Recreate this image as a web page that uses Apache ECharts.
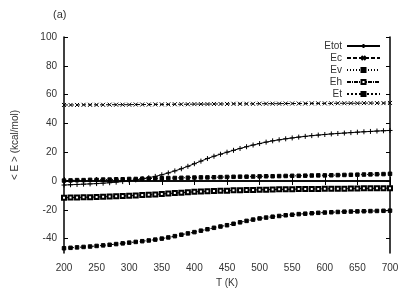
<!DOCTYPE html>
<html><head><meta charset="utf-8">
<script src="https://cdn.jsdelivr.net/npm/echarts@6/dist/echarts.min.js"></script>
<style>html,body{margin:0;padding:0;background:#fff}#c{width:409px;height:298px}</style>
</head><body><div id="c"></div>
<script>
const temps = [200,210,220,230,240,250,260,270,280,290,300,310,320,330,340,350,360,370,380,390,400,410,420,430,440,450,460,470,480,490,500,510,520,530,540,550,560,570,580,590,600,610,620,630,640,650,660,670,680,690,700];
const Etot = [-2.8,-2.6,-2.4,-2.2,-2.0,-1.8,-1.5,-1.2,-0.8,-0.4,0.2,0.8,1.5,2.3,3.2,4.3,5.6,7.0,8.5,10.2,12.0,13.8,15.6,17.2,18.6,20.0,21.3,22.6,23.8,25.0,26.0,27.0,27.9,28.6,29.3,29.9,30.5,31.0,31.5,31.9,32.3,32.7,33.0,33.3,33.6,33.9,34.2,34.4,34.7,34.9,35.1];
const Ec = [52.8,52.8,52.8,52.9,52.9,52.9,52.9,53.0,53.0,53.0,53.0,53.1,53.1,53.1,53.2,53.2,53.2,53.3,53.3,53.3,53.4,53.4,53.4,53.5,53.5,53.5,53.6,53.6,53.6,53.6,53.7,53.7,53.7,53.7,53.8,53.8,53.8,53.8,53.9,53.9,53.9,53.9,54.0,54.0,54.0,54.0,54.1,54.1,54.1,54.1,54.2];
const Ev = [0.3,0.4,0.6,0.6,0.8,0.8,1.0,1.0,1.2,1.2,1.4,1.4,1.6,1.7,1.8,1.9,2.0,2.1,2.2,2.3,2.4,2.5,2.5,2.6,2.7,2.8,2.9,3.0,3.0,3.1,3.2,3.3,3.3,3.4,3.5,3.6,3.6,3.7,3.8,3.9,3.9,4.0,4.1,4.2,4.3,4.4,4.5,4.6,4.7,4.8,5.0];
const Eh = [-11.6,-11.5,-11.4,-11.3,-11.2,-11.1,-11.0,-10.8,-10.6,-10.4,-10.2,-10.0,-9.8,-9.6,-9.3,-9.0,-8.7,-8.4,-8.1,-7.8,-7.5,-7.3,-7.1,-6.9,-6.8,-6.7,-6.5,-6.4,-6.3,-6.2,-6.1,-6.0,-5.9,-5.8,-5.8,-5.7,-5.6,-5.6,-5.5,-5.5,-5.4,-5.4,-5.3,-5.3,-5.2,-5.2,-5.1,-5.1,-5.0,-5.0,-5.0];
const Et = [-46.7,-46.4,-46.1,-45.8,-45.5,-45.1,-44.7,-44.3,-43.8,-43.3,-42.8,-42.3,-41.8,-41.3,-40.7,-40.0,-39.2,-38.3,-37.3,-36.4,-35.5,-34.5,-33.5,-32.5,-31.6,-30.7,-29.7,-28.7,-27.7,-26.8,-26.0,-25.4,-24.8,-24.3,-23.8,-23.4,-23.0,-22.7,-22.4,-22.1,-21.9,-21.7,-21.5,-21.3,-21.2,-21.1,-21.0,-20.9,-20.8,-20.7,-20.6];
const seriesNames = ['Etot','Ec','Ev','Eh','Et'];
const yTicks = [-40,-20,0,20,40,60,80,100];
const xTicks = [200,250,300,350,400,450,500,550,600,650,700];

const font = 'Liberation Sans, Arial, sans-serif';
const txt = '#333';
const pair = a => a.map((v,i)=>[temps[i], v]);
const cross = 'path://M0,0L10,10M10,0L0,10';
const plus = 'path://M5,0L5,10M0,5L10,5';
const styles = {
  Etot:{data:Etot, symbol:plus, size:5, type:'solid'},
  Ec:{data:Ec, symbol:cross, size:4, type:[4,2]},
  Ev:{data:Ev, symbol:'rect', size:3.5, type:[1,2]},
  Eh:{data:Eh, symbol:'emptyRect', size:4, type:[4,1,1,1]},
  Et:{data:Et, symbol:'rect', size:3.5, type:[2,2]}
};
const series = seriesNames.map(n => ({
  name:n, type:'line', data:pair(styles[n].data),
  symbol:styles[n].symbol, symbolSize:styles[n].size, showAllSymbol:true,
  lineStyle:{color:'#000', width:1, type:styles[n].type},
  itemStyle:{color:'#000', borderColor:'#000', borderWidth:1},
  animation:false
}));
const chart = echarts.init(document.getElementById('c'));
chart.setOption({
  animation:false,
  title:{text:'(a)', left:48, top:4, textStyle:{fontSize:11, fontWeight:'normal', color:txt, fontFamily:font}},
  legend:{data:seriesNames, orient:'vertical', right:28, top:40, align:'right', itemWidth:33, itemHeight:5, itemGap:0,
    padding:0, textStyle:{fontSize:10, color:txt, fontFamily:font, lineHeight:12, padding:[0,0,0,0]}},
  grid:{left:64, right:19, top:37, bottom:45},
  xAxis:[{type:'value', min:200, max:700, interval:50, position:'bottom',
    name:'T (K)', nameLocation:'middle', nameGap:25, nameTextStyle:{fontSize:10, color:txt, fontFamily:font},
    axisLine:{show:true, lineStyle:{color:'#000', width:1.5}},
    axisTick:{show:true, inside:true, length:4, lineStyle:{color:'#000'}},
    axisLabel:{fontSize:10, color:txt, fontFamily:font, margin:10},
    splitLine:{show:false}},
   {type:'value', min:200, max:700, interval:50, position:'top',
    axisLine:{show:true, lineStyle:{color:'#000', width:1.5}},
    axisTick:{show:true, inside:true, length:4, lineStyle:{color:'#000'}},
    axisLabel:{show:false}, splitLine:{show:false}}],
  yAxis:[{type:'value', min:-50, max:100, position:'left',
    name:'< E > (kcal/mol)', nameLocation:'middle', nameGap:44, nameRotate:90,
    nameTextStyle:{fontSize:10, color:txt, fontFamily:font},
    axisLine:{show:true, lineStyle:{color:'#000', width:1.5}},
    axisTick:{show:true, inside:true, length:4, customValues:yTicks, lineStyle:{color:'#000'}},
    axisLabel:{fontSize:10, color:txt, fontFamily:font, margin:7, customValues:yTicks},
    splitLine:{show:false}},
   {type:'value', min:-50, max:100, position:'right',
    axisLine:{show:true, lineStyle:{color:'#000', width:1.5}},
    axisTick:{show:true, inside:true, length:4, customValues:yTicks, lineStyle:{color:'#000'}},
    axisLabel:{show:false, customValues:yTicks}, splitLine:{show:false}}],
  series:series
});
</script></body></html>
